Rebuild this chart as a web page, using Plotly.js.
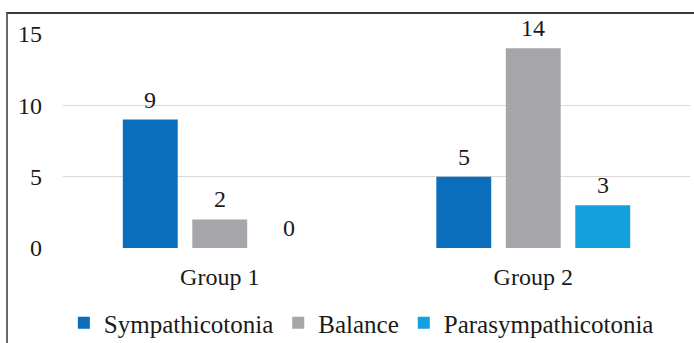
<!DOCTYPE html>
<html>
<head>
<meta charset="utf-8">
<script src="https://cdn.plot.ly/plotly-3.0.1.min.js"></script>
<style>
  html, body { margin: 0; padding: 0; background: #fff; }
  #wrap { position: relative; width: 694px; height: 343px; overflow: hidden; }
  #chart { width: 694px; height: 343px; }
  #frame { position: absolute; left: 6px; top: 12px; width: 700px; height: 340px;
           border-top: 2px solid #3a3a3a; border-left: 2px solid #6a6a6a; pointer-events: none; }
</style>
</head>
<body>
<div id="wrap">
  <div id="chart"></div>
  <div id="frame"></div>
</div>
<script>
const categories = ["Group 1", "Group 2"];
const seriesNames = ["Sympathicotonia", "Balance", "Parasympathicotonia"];
const sympathicotonia = [9, 5];
const balance = [2, 14];
const parasympathicotonia = [0, 3];
const yTicks = [0, 5, 10, 15];

const colors = ["#0a6ebd", "#a6a6aa", "#14a0dc"];
const FONT = "Liberation Serif, Times New Roman, serif";
const TXT = "#1a1a1a";
const bargap = 0.335;
const bargroupgap = 0.21;

const seriesValues = [sympathicotonia, balance, parasympathicotonia];
const traces = seriesValues.map((vals, j) => ({
  type: "bar",
  name: seriesNames[j],
  x: categories,
  y: vals,
  marker: { color: colors[j], line: { width: 0 } },
  hoverinfo: "skip"
}));

// value labels placed at each bar's centre via annotations
const groupWidth = 1 - bargap;
const slot = groupWidth / seriesValues.length;
const annotations = [];
seriesValues.forEach((vals, j) => {
  vals.forEach((v, i) => {
    annotations.push({
      x: i - groupWidth / 2 + slot * (j + 0.5),
      y: v,
      xref: "x", yref: "y",
      text: String(v),
      showarrow: false,
      yanchor: "bottom",
      yshift: 5,
      font: { family: FONT, size: 24, color: TXT }
    });
  });
});

const layout = {
  width: 694, height: 343,
  margin: { l: 63, r: 4, t: 34, b: 95, autoexpand: false },
  paper_bgcolor: "#ffffff",
  plot_bgcolor: "#ffffff",
  barmode: "group",
  bargap: bargap,
  bargroupgap: bargroupgap,
  font: { family: FONT, size: 24, color: TXT },
  xaxis: {
    type: "category",
    range: [-0.5, 1.5],
    showgrid: false,
    showline: false,
    zeroline: false,
    ticks: "",
    ticklabelstandoff: 12,
    tickfont: { family: FONT, size: 24, color: TXT },
    fixedrange: true
  },
  yaxis: {
    range: [0, 15],
    tickvals: yTicks,
    ticktext: yTicks.map(String),
    showgrid: true,
    gridcolor: "#d9d9d9",
    gridwidth: 1,
    zeroline: false,
    showline: false,
    ticks: "",
    ticklabelstandoff: 20,
    tickfont: { family: FONT, size: 24, color: TXT },
    fixedrange: true
  },
  showlegend: true,
  legend: {
    orientation: "h",
    xref: "container",
    x: 0.092, xanchor: "left",
    yref: "container",
    y: 0.058, yanchor: "middle",
    font: { family: FONT, size: 25, color: TXT },
    bgcolor: "rgba(0,0,0,0)",
    itemclick: false,
    itemdoubleclick: false,
    tracegroupgap: 0
  },
  annotations: annotations
};

Plotly.newPlot("chart", traces, layout, { displayModeBar: false, staticPlot: true });
</script>
</body>
</html>
